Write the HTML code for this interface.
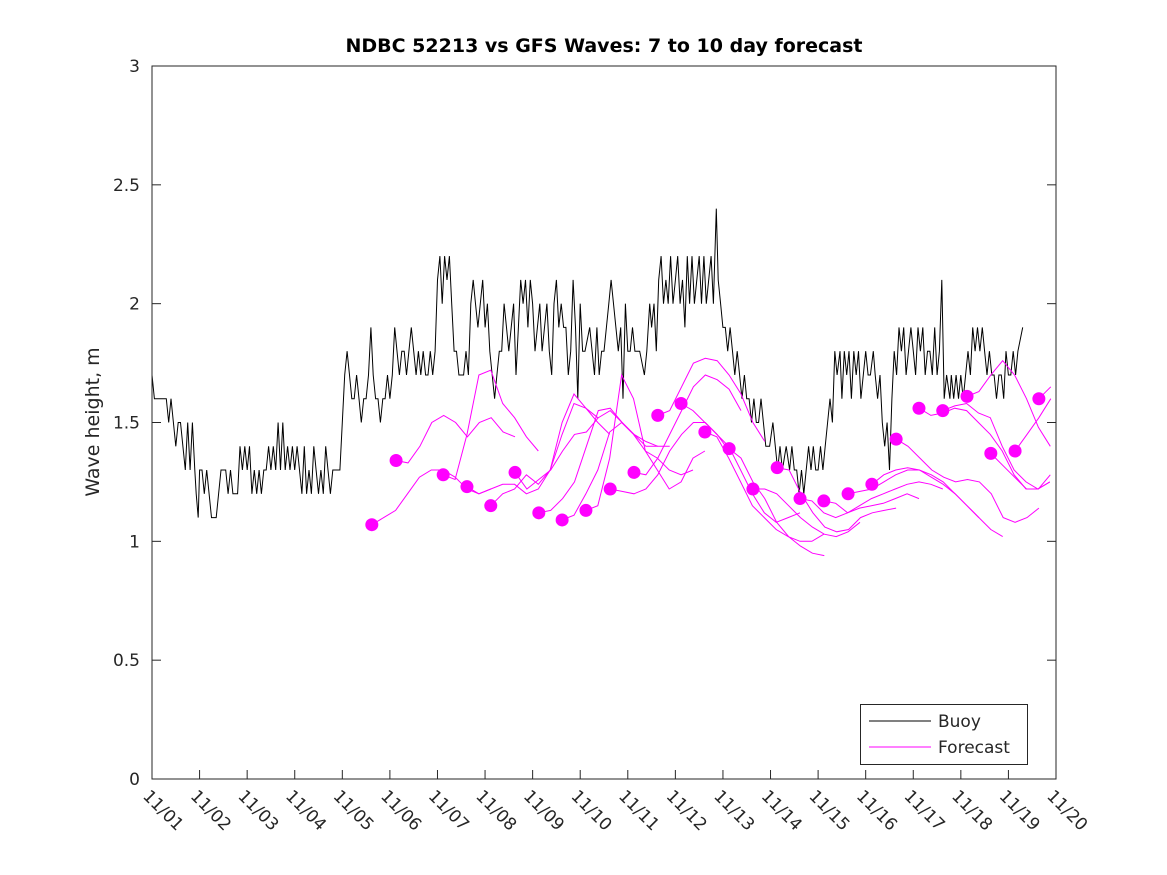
<!DOCTYPE html>
<html><head><meta charset="utf-8"><style>
body{margin:0;background:#fff}
svg{display:block;font-family:"DejaVu Sans","Liberation Sans",sans-serif}
</style></head><body>
<svg id="chart" width="1167" height="875">
<rect x="0" y="0" width="1167" height="875" fill="#fff"/>
<text x="604" y="52" text-anchor="middle" font-size="19" font-weight="bold" fill="#000">NDBC 52213 vs GFS Waves: 7 to 10 day forecast</text>
<text transform="translate(99,422) rotate(-90)" text-anchor="middle" font-size="19" fill="#262626">Wave height, m</text>
<g id="axes"></g>
<g id="series"></g>
<rect x="152" y="66" width="904" height="713" fill="none" stroke="#262626" stroke-width="1"/>
<g>
<rect x="860.5" y="704.5" width="167" height="60" fill="#fff" stroke="#262626"/>
<line x1="869" y1="721" x2="931" y2="721" stroke="#000"/>
<text x="938" y="727" font-size="17" fill="#262626">Buoy</text>
<line x1="869" y1="747" x2="931" y2="747" stroke="#ff00ff"/>
<text x="938" y="753" font-size="17" fill="#262626">Forecast</text>
</g>
</svg>
<script>
const yTicks=[0,0.5,1,1.5,2,2.5,3];
const yTickLabels=["0","0.5","1","1.5","2","2.5","3"];
const xTickLabels=["11/01","11/02","11/03","11/04","11/05","11/06","11/07","11/08","11/09","11/10","11/11","11/12","11/13","11/14","11/15","11/16","11/17","11/18","11/19","11/20"];
const buoyReadings=[
[0,1.7],[0.05,1.6],[0.15,1.6],[0.3,1.6],[0.35,1.5],[0.4,1.6],[0.45,1.5],[0.5,1.4],[0.55,1.5],[0.6,1.5],[0.65,1.4],[0.7,1.3],[0.75,1.5],[0.8,1.3],[0.85,1.5],[0.9,1.3],[0.93,1.2],[0.97,1.1],[1.0,1.3],[1.05,1.3],[1.1,1.2],[1.15,1.3],[1.2,1.2],[1.25,1.1],[1.35,1.1],[1.4,1.2],[1.45,1.3],[1.55,1.3],[1.6,1.2],[1.65,1.3],[1.7,1.2],[1.8,1.2],[1.85,1.4],[1.9,1.3],[1.95,1.4],[2.0,1.3],[2.05,1.4],[2.1,1.2],[2.15,1.3],[2.2,1.2],[2.25,1.3],[2.3,1.2],[2.35,1.3],[2.4,1.3],[2.45,1.4],[2.5,1.3],[2.55,1.4],[2.6,1.3],[2.65,1.5],[2.7,1.3],[2.75,1.5],[2.8,1.3],[2.85,1.4],[2.9,1.3],[2.95,1.4],[3.0,1.3],[3.05,1.4],[3.1,1.3],[3.15,1.2],[3.2,1.4],[3.25,1.2],[3.3,1.3],[3.35,1.2],[3.4,1.4],[3.45,1.3],[3.5,1.2],[3.55,1.3],[3.6,1.2],[3.65,1.4],[3.7,1.3],[3.75,1.2],[3.8,1.3],[3.9,1.3],[3.95,1.3],[4.0,1.5],[4.05,1.7],[4.1,1.8],[4.15,1.7],[4.2,1.6],[4.25,1.6],[4.3,1.7],[4.35,1.6],[4.4,1.5],[4.45,1.6],[4.5,1.6],[4.55,1.7],[4.6,1.9],[4.65,1.7],[4.7,1.6],[4.75,1.6],[4.8,1.5],[4.85,1.6],[4.9,1.6],[4.95,1.7],[5.0,1.6],[5.05,1.7],[5.1,1.9],[5.15,1.8],[5.2,1.7],[5.25,1.8],[5.3,1.8],[5.35,1.7],[5.4,1.8],[5.45,1.9],[5.5,1.8],[5.55,1.7],[5.6,1.8],[5.65,1.7],[5.7,1.8],[5.75,1.7],[5.8,1.7],[5.85,1.8],[5.9,1.7],[5.95,1.8],[6.0,2.1],[6.05,2.2],[6.1,2.0],[6.15,2.2],[6.2,2.1],[6.25,2.2],[6.3,2.0],[6.35,1.8],[6.4,1.8],[6.45,1.7],[6.55,1.7],[6.6,1.8],[6.65,1.7],[6.7,2.0],[6.75,2.1],[6.8,2.0],[6.85,1.9],[6.9,2.0],[6.95,2.1],[7.0,1.9],[7.05,2.0],[7.1,1.8],[7.15,1.7],[7.2,1.6],[7.25,1.7],[7.3,1.8],[7.35,1.8],[7.4,2.0],[7.45,1.9],[7.5,1.8],[7.55,1.9],[7.6,2.0],[7.65,1.7],[7.7,1.9],[7.75,2.1],[7.8,2.0],[7.85,2.1],[7.9,1.9],[7.95,2.1],[8.0,2.0],[8.05,1.8],[8.1,1.9],[8.15,2.0],[8.2,1.8],[8.25,1.9],[8.3,2.0],[8.35,1.8],[8.4,1.7],[8.45,2.0],[8.5,2.1],[8.55,1.9],[8.6,2.0],[8.65,1.9],[8.7,1.9],[8.75,1.7],[8.8,1.8],[8.85,2.1],[8.9,1.9],[8.95,1.6],[9.0,2.0],[9.05,1.8],[9.1,1.8],[9.2,1.9],[9.25,1.8],[9.3,1.7],[9.35,1.9],[9.4,1.7],[9.45,1.8],[9.5,1.8],[9.55,1.9],[9.6,2.0],[9.65,2.1],[9.7,2.0],[9.75,1.9],[9.8,1.8],[9.85,1.9],[9.9,1.6],[9.95,2.0],[10.0,1.8],[10.05,1.8],[10.1,1.9],[10.15,1.8],[10.25,1.8],[10.35,1.7],[10.4,1.8],[10.46,2.0],[10.5,1.9],[10.55,2.0],[10.6,1.8],[10.65,2.1],[10.7,2.2],[10.75,2.0],[10.8,2.1],[10.85,2.0],[10.9,2.2],[10.95,2.0],[11.0,2.1],[11.05,2.2],[11.1,2.0],[11.15,2.1],[11.2,1.9],[11.25,2.2],[11.3,2.0],[11.35,2.2],[11.4,2.0],[11.45,2.1],[11.5,2.2],[11.55,2.0],[11.6,2.2],[11.65,2.0],[11.7,2.1],[11.75,2.2],[11.8,2.0],[11.86,2.4],[11.9,2.1],[11.95,2.0],[12.0,1.9],[12.05,1.9],[12.1,1.8],[12.15,1.9],[12.2,1.8],[12.25,1.7],[12.3,1.8],[12.35,1.7],[12.4,1.6],[12.45,1.7],[12.5,1.6],[12.55,1.6],[12.6,1.5],[12.65,1.6],[12.7,1.5],[12.75,1.5],[12.8,1.6],[12.85,1.5],[12.9,1.4],[12.98,1.4],[13.05,1.5],[13.1,1.4],[13.15,1.3],[13.2,1.4],[13.25,1.3],[13.33,1.4],[13.4,1.3],[13.45,1.4],[13.5,1.3],[13.55,1.3],[13.6,1.2],[13.65,1.3],[13.7,1.2],[13.75,1.3],[13.8,1.4],[13.85,1.3],[13.9,1.4],[13.95,1.3],[14.0,1.3],[14.05,1.4],[14.1,1.3],[14.15,1.4],[14.2,1.5],[14.25,1.6],[14.3,1.5],[14.35,1.8],[14.4,1.7],[14.46,1.8],[14.5,1.6],[14.55,1.8],[14.6,1.7],[14.65,1.8],[14.7,1.6],[14.75,1.8],[14.8,1.7],[14.85,1.8],[14.9,1.6],[14.95,1.7],[15.0,1.8],[15.05,1.7],[15.1,1.7],[15.16,1.8],[15.2,1.7],[15.25,1.6],[15.3,1.7],[15.35,1.5],[15.4,1.4],[15.45,1.5],[15.5,1.3],[15.55,1.6],[15.6,1.8],[15.65,1.7],[15.7,1.9],[15.75,1.8],[15.8,1.9],[15.85,1.7],[15.9,1.8],[15.95,1.9],[16.0,1.8],[16.05,1.7],[16.1,1.9],[16.15,1.8],[16.2,1.9],[16.25,1.7],[16.3,1.8],[16.35,1.8],[16.4,1.7],[16.45,1.9],[16.5,1.7],[16.55,1.8],[16.6,2.1],[16.65,1.6],[16.7,1.7],[16.77,1.6],[16.8,1.7],[16.85,1.6],[16.9,1.7],[16.95,1.6],[17.0,1.7],[17.05,1.6],[17.1,1.7],[17.15,1.8],[17.2,1.7],[17.25,1.9],[17.3,1.8],[17.35,1.9],[17.4,1.8],[17.45,1.9],[17.5,1.8],[17.55,1.7],[17.6,1.8],[17.65,1.7],[17.7,1.7],[17.75,1.6],[17.8,1.7],[17.85,1.7],[17.9,1.6],[17.95,1.8],[18.0,1.7],[18.05,1.7],[18.1,1.8],[18.15,1.7],[18.2,1.8],[18.3,1.9]
];
const dotDays=[4.62,5.13,6.12,6.62,7.12,7.63,8.13,8.62,9.12,9.63,10.13,10.63,11.12,11.62,12.13,12.63,13.14,13.62,14.12,14.63,15.13,15.64,16.12,16.62,17.13,17.63,18.14,18.64];
const dotHeights=[1.07,1.34,1.28,1.23,1.15,1.29,1.12,1.09,1.13,1.22,1.29,1.53,1.58,1.46,1.39,1.22,1.31,1.18,1.17,1.20,1.24,1.43,1.56,1.55,1.61,1.37,1.38,1.60];
const forecastSeries=[
[1.07,1.10,1.13,1.20,1.27,1.30,1.30,1.27,1.22,1.20,1.22],
[1.34,1.33,1.40,1.50,1.53,1.50,1.44,1.50,1.52,1.46,1.44],
[1.28,1.26,1.45,1.70,1.72,1.58,1.52,1.44,1.38],
[1.23,1.20,1.22,1.24,1.24,1.20,1.22,1.30,1.45,1.58,1.56,1.52],
[1.15,1.20,1.22,1.28,1.24,1.30,1.50,1.62,1.56,1.50,1.45],
[1.29,1.22,1.26,1.30,1.38,1.45,1.46,1.52,1.55,1.50,1.45,1.42,1.40],
[1.12,1.13,1.18,1.25,1.40,1.55,1.56,1.50,1.45,1.40,1.40,1.40],
[1.09,1.11,1.20,1.30,1.46,1.50,1.45,1.38,1.35,1.30,1.28,1.30],
[1.13,1.15,1.35,1.70,1.60,1.38,1.30,1.22,1.25,1.35,1.38],
[1.22,1.21,1.20,1.22,1.28,1.38,1.45,1.50,1.50,1.45,1.38],
[1.29,1.28,1.35,1.45,1.55,1.65,1.70,1.68,1.64,1.55],
[1.53,1.55,1.65,1.75,1.77,1.76,1.70,1.62,1.50,1.42],
[1.58,1.55,1.50,1.45,1.40,1.30,1.20,1.12,1.08,1.10,1.12],
[1.46,1.44,1.35,1.25,1.15,1.10,1.05,1.02,1.00,1.00,1.03],
[1.39,1.35,1.25,1.18,1.08,1.02,0.98,0.95,0.94],
[1.22,1.22,1.20,1.15,1.10,1.06,1.03,1.02,1.04,1.08],
[1.31,1.30,1.20,1.12,1.06,1.04,1.05,1.10,1.12,1.13,1.14],
[1.18,1.17,1.12,1.10,1.12,1.14,1.15,1.16,1.18,1.20,1.18],
[1.17,1.16,1.12,1.15,1.18,1.20,1.22,1.24,1.25,1.24,1.22],
[1.20,1.21,1.22,1.25,1.28,1.30,1.30,1.28,1.25,1.20,1.15,1.10],
[1.24,1.28,1.30,1.31,1.30,1.27,1.24,1.20,1.15,1.10,1.05,1.02],
[1.43,1.40,1.35,1.30,1.27,1.25,1.26,1.25,1.20,1.10,1.08,1.10,1.14],
[1.56,1.53,1.54,1.56,1.55,1.50,1.45,1.38,1.28,1.22,1.22,1.25],
[1.55,1.57,1.58,1.54,1.52,1.40,1.30,1.25,1.22,1.25,1.27,1.30],
[1.61,1.63,1.70,1.76,1.70,1.60,1.48,1.40,1.30,1.25],
[1.37,1.32,1.27,1.22,1.22,1.28,1.45,1.58,1.75,1.80,1.76],
[1.38,1.45,1.52,1.60,1.65,1.70,1.75,1.85,1.72,1.40],
[1.60,1.65,1.70,1.78,1.74,1.72]
];
const forecastStep=0.25;
const NS="http://www.w3.org/2000/svg";
const X0=152,X1=1056,Y0=779,Y1=66,DMAX=19,VMAX=3;
function xs(d){return X0+(X1-X0)*d/DMAX;}
function ys(v){return Y0-(Y0-Y1)*v/VMAX;}
function mk(t,a){const e=document.createElementNS(NS,t);for(const k in a)e.setAttribute(k,a[k]);return e;}
const axes=document.getElementById('axes'),series=document.getElementById('series');
yTicks.forEach((v,i)=>{
 const y=ys(v);
 const l=mk('line',{x1:X0,y1:y,x2:X0+9,y2:y,stroke:'#262626'});
 
 
 axes.appendChild(l);
 const r=mk('line',{x1:X1-9,y1:y,x2:X1,y2:y,stroke:'#262626'});
 
 
 axes.appendChild(r);
 const t=mk('text',{x:X0-12,y:y+6,'text-anchor':'end','font-size':17,fill:'#262626'});
 t.textContent=yTickLabels[i];
 
 
 axes.appendChild(t);
});
xTickLabels.forEach((lab,i)=>{
 const x=xs(i);
 const l=mk('line',{x1:x,y1:Y0,x2:x,y2:Y0-9,stroke:'#262626'});
 
 
 axes.appendChild(l);
 const t=mk('text',{transform:`translate(${x-10},${Y0+18}) rotate(45)`,'font-size':17,fill:'#262626'});
 t.textContent=lab;
 
 
 axes.appendChild(t);
});
const bp=mk('polyline',{points:buoyReadings.map(p=>xs(p[0]).toFixed(1)+','+ys(p[1]).toFixed(1)).join(' '),fill:'none',stroke:'#000','stroke-width':1});


series.appendChild(bp);
forecastSeries.forEach((vals,k)=>{
 const pts=[];
 vals.forEach((v,j)=>{const d=dotDays[k]+j*forecastStep;if(d<=DMAX)pts.push(xs(d).toFixed(1)+','+ys(v).toFixed(1));});
 const p=mk('polyline',{points:pts.join(' '),fill:'none',stroke:'#ff00ff','stroke-width':1});
 
 
 series.appendChild(p);
});
dotDays.forEach((d,k)=>{
 const c=mk('circle',{cx:xs(d),cy:ys(dotHeights[k]),r:6.5,fill:'#ff00ff'});
 
 
 series.appendChild(c);
});
</script>
</body></html>
